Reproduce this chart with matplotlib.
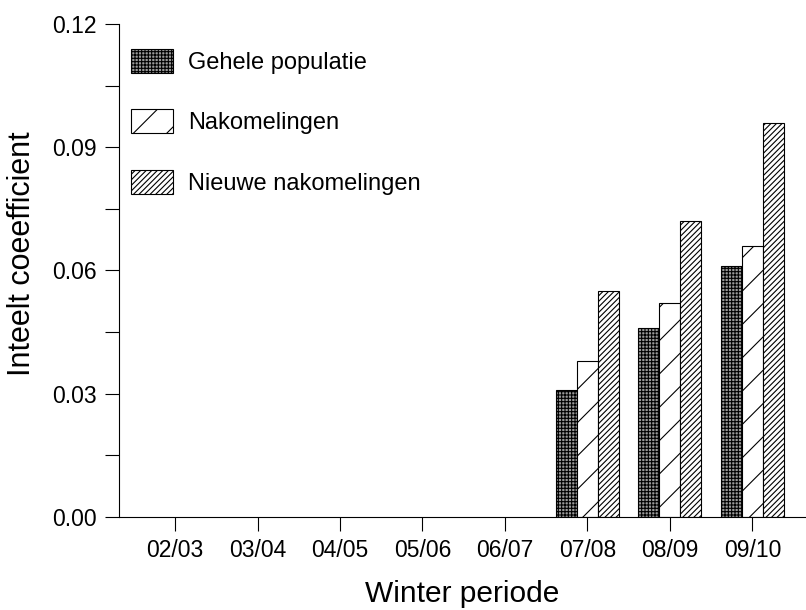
import matplotlib
matplotlib.use("Agg")
import matplotlib.pyplot as plt
import numpy as np
from matplotlib.ticker import MultipleLocator, FormatStrFormatter
from matplotlib.patches import Patch

plt.rcParams['font.family'] = ['Liberation Sans', 'DejaVu Sans']
plt.rcParams['hatch.linewidth'] = 0.8

categories = ['02/03', '03/04', '04/05', '05/06', '06/07', '07/08', '08/09', '09/10']
gehele = [0, 0, 0, 0, 0, 0.031, 0.046, 0.061]
nakomelingen = [0, 0, 0, 0, 0, 0.038, 0.052, 0.066]
nieuwe = [0, 0, 0, 0, 0, 0.055, 0.072, 0.096]
series_labels = ['Gehele populatie', 'Nakomelingen', 'Nieuwe nakomelingen']

styles = [
    dict(facecolor='#9a9a9a', edgecolor='black', hatch='+++++', linewidth=0.8),
    dict(facecolor='white', edgecolor='black', hatch='/', linewidth=0.8),
    dict(facecolor='white', edgecolor='black', hatch='//////', linewidth=0.8),
]

fig = plt.figure(figsize=(8.06, 6.10), dpi=100)
ax = fig.add_axes([0.1476, 0.1525, 0.8524, 0.8082])

x = np.arange(len(categories))
w = 0.255
for i, (vals, st) in enumerate(zip([gehele, nakomelingen, nieuwe], styles)):
    bars = ax.bar(x + (i - 1) * w, vals, w, **st)
    for bar in bars:
        if bar.get_height() == 0:
            bar.set_visible(False)

ax.set_xlim(-0.68, 7.65)
ax.set_ylim(0, 0.12)
ax.set_xticks(x)
ax.set_xticklabels(categories)
ax.yaxis.set_major_locator(MultipleLocator(0.03))
ax.yaxis.set_minor_locator(MultipleLocator(0.015))
ax.yaxis.set_major_formatter(FormatStrFormatter('%.2f'))
ax.spines['top'].set_visible(False)
ax.spines['right'].set_visible(False)
for s in ('left', 'bottom'):
    ax.spines[s].set_linewidth(0.8)
ax.tick_params(axis='both', which='both', direction='out', length=10, width=0.8, labelsize=16.5)
ax.tick_params(axis='y', pad=6)
ax.tick_params(axis='x', pad=6)

ax.set_xlabel('Winter periode', fontsize=21.5, labelpad=13)
ax.set_ylabel('Inteelt coeefficient', fontsize=22)
ax.yaxis.set_label_coords(-0.12, 0.535)

handles = [Patch(**st) for st in styles]
ax.legend(handles, series_labels, loc='upper left', bbox_to_anchor=(0.0175, 0.95),
          frameon=False, fontsize=17, labelspacing=1.5, handlelength=1.8,
          handleheight=1.2, handletextpad=0.6, borderpad=0, borderaxespad=0)

fig.savefig('out.png', dpi=100)
